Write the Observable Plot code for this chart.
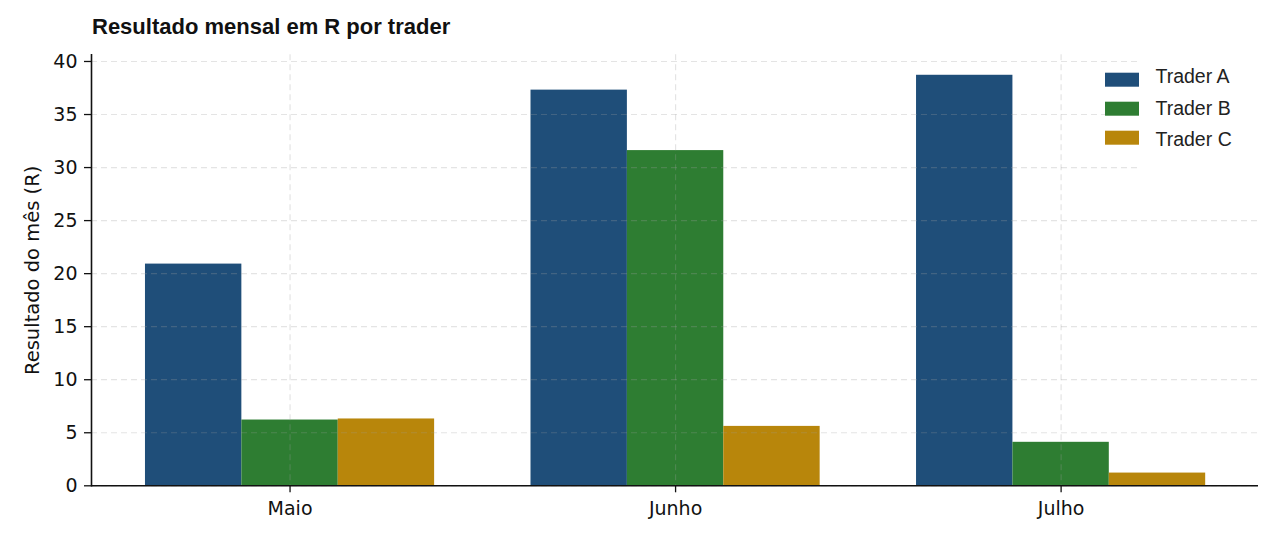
<!DOCTYPE html>
<html><head><meta charset="utf-8">
<script src="https://cdn.jsdelivr.net/npm/d3@7"></script>
<script src="https://cdn.jsdelivr.net/npm/@observablehq/plot@0.6"></script>
<style>
body{margin:0;background:#fff;}
#title{font-family:"Liberation Sans",Arial,sans-serif;font-weight:bold;font-size:22px;color:#111;padding:14px 0 0 92px;line-height:26px;height:32px;box-sizing:content-box;}
#chart svg{display:block;}
</style></head><body>
<div id="title">Resultado mensal em R por trader</div>
<div id="chart"></div>
<script>
const months = ["Maio", "Junho", "Julho"];
const traders = ["Trader A", "Trader B", "Trader C"];
const traderA = [20.9, 37.3, 38.7];
const traderB = [6.2, 31.6, 4.1];
const traderC = [6.3, 5.6, 1.2];
const colors = ["#1f4e79", "#2e7d32", "#b8860b"];
const yTicks = [0, 5, 10, 15, 20, 25, 30, 35, 40];
const yLabel = "Resultado do mês (R)";

const series = [traderA, traderB, traderC];
const barWidth = 0.25; // in month-index units, like a grouped bar layout
const data = months.flatMap((m, i) => traders.map((t, j) => ({
  month: m, trader: t, value: series[j][i],
  x1: i + (j - 1) * barWidth - barWidth / 2,
  x2: i + (j - 1) * barWidth + barWidth / 2
})));
const monthIdx = months.map((m, i) => i);

const W = 1280, H = 498;
const mL = 91, mR = 22, mT = 8.3, mB = 58.7;
const fw = W - mL - mR, fh = H - mT - mB;
const gridStyle = {stroke: "#9e9e9e", strokeOpacity: 0.28, strokeWidth: 1.2, strokeDasharray: "6,4"};
const tickFont = {fontFamily: "DejaVu Sans", fontSize: 19};

// legend layout (pixels relative to the plot frame)
const legSwX1 = 1105 - mL, legSwW = 34, legSwH = 14, legTop = 72.7 - 46 - mT, legGap = 29;
const legTextTop = 21.8, legTextGap = 31.7;
const legendMarks = traders.flatMap((t, j) => [
  Plot.rect([t], {
    fill: colors[j],
    insetLeft: legSwX1, insetRight: fw - legSwX1 - legSwW,
    insetTop: legTop + j * legGap, insetBottom: fh - legTop - j * legGap - legSwH
  }),
  Plot.text([t], {
    text: d => d, frameAnchor: "top-left",
    dx: 1155 - mL, dy: legTextTop + j * legTextGap,
    textAnchor: "start", lineAnchor: "middle",
    fontFamily: "Liberation Sans", fontSize: 19.5, fill: "#222"
  })
]);

const chart = Plot.plot({
  width: W, height: H,
  marginLeft: mL, marginRight: mR, marginTop: mT, marginBottom: mB,
  style: {background: "#fff", color: "#111"},
  x: {type: "linear", domain: [-0.515, 2.512], axis: null},
  y: {domain: [0, 40.63], axis: null},
  color: {domain: traders, range: colors},
  marks: [
    Plot.rectY(data, {x1: "x1", x2: "x2", y: "value", fill: "trader"}),
    Plot.gridY({ticks: yTicks, ...gridStyle}),
    Plot.gridX({ticks: monthIdx, ...gridStyle}),
    Plot.rect([0], {fill: "white", insetLeft: 1140 - mL, insetRight: 0, insetTop: 0, insetBottom: fh - (170 - 46 - mT)}),
    ...legendMarks,
    Plot.axisY({ticks: yTicks, tickSize: 7, tickPadding: 7, label: null, ...tickFont, fill: "#111", stroke: "#111", strokeWidth: 1.3}),
    Plot.axisX({ticks: monthIdx, tickFormat: i => months[i], tickSize: 7, tickPadding: 9, label: null, ...tickFont, fill: "#111", stroke: "#111", strokeWidth: 1.3}),
    Plot.frame({anchor: "left", stroke: "#111", strokeWidth: 1.6}),
    Plot.ruleY([0], {stroke: "#111", strokeWidth: 1.6}),
    Plot.text([yLabel], {text: d => d, frameAnchor: "left", textAnchor: "middle", dx: -59, rotate: -90, fontFamily: "DejaVu Sans", fontSize: 19.5, fill: "#111"})
  ]
});
document.getElementById("chart").appendChild(chart);
</script>
</body></html>
